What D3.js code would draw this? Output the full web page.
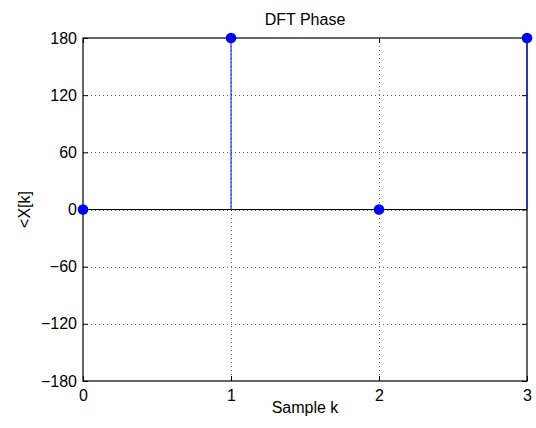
<!DOCTYPE html>
<html>
<head>
<meta charset="utf-8">
<script src="https://cdn.jsdelivr.net/npm/d3@7"></script>
<style>
  body { margin: 0; background: #fff; }
  text { font-family: "Liberation Sans", Arial, Helvetica, sans-serif; }
</style>
</head>
<body>
<svg id="chart" width="536" height="428"></svg>
<script>
"use strict";

const samples = [0, 1, 2, 3]
const phase = [0, 180, 0, 180]
const yTicks = [-180, -120, -60, 0, 60, 120, 180]
const xTicks = [0, 1, 2, 3]

const width = 536
const height = 428
const margin = { top: 38, right: 9, bottom: 47, left: 83 }

const svg = d3.select("#chart")

const x = d3.scaleLinear().domain([0, 3]).range([margin.left, width - margin.right])
const y = d3.scaleLinear().domain([-180, 180]).range([height - margin.bottom, margin.top])

const fmt = d => d < 0 ? "\u2212" + Math.abs(d) : String(d)

// grid (dotted)
const grid = svg.append("g")
    .attr("stroke", "#000")
    .attr("stroke-width", 1)
    .attr("stroke-dasharray", "1,3")
    .attr("shape-rendering", "crispEdges")

grid.selectAll("line.gy")
    .data(yTicks.slice(1, -1))
    .join("line")
    .attr("x1", x(0)).attr("x2", x(3))
    .attr("y1", d => Math.round(y(d)) + 0.5).attr("y2", d => Math.round(y(d)) + 0.5)
    .attr("stroke-opacity", 0.6)

grid.selectAll("line.gx")
    .data(xTicks.slice(1, -1))
    .join("line")
    .attr("y1", y(180)).attr("y2", y(-180))
    .attr("x1", d => Math.round(x(d)) + 0.5).attr("x2", d => Math.round(x(d)) + 0.5)
    .attr("stroke-opacity", 0.6)

// axes, ticks inward on all four sides
const tickLen = 5
const axisLeft = d3.axisLeft(y).tickValues(yTicks).tickSize(-tickLen).tickPadding(6).tickFormat(fmt)
const axisRight = d3.axisRight(y).tickValues(yTicks).tickSize(-tickLen).tickFormat("")
const axisBottom = d3.axisBottom(x).tickValues(xTicks).tickSize(-tickLen).tickPadding(9).tickFormat(d3.format("d"))
const axisTop = d3.axisTop(x).tickValues(xTicks).tickSize(-tickLen).tickFormat("")

function styleAxis(g) {
    g.attr("font-size", null).attr("font-family", null)
    g.select(".domain").remove()
    g.selectAll(".tick line").attr("stroke", "#000")
    g.selectAll(".tick text").attr("fill", "#000").style("font-size", "16px")
}

svg.append("g").attr("transform", `translate(${x(0)},0)`).call(axisLeft).call(styleAxis)
svg.append("g").attr("transform", `translate(${x(3)},0)`).call(axisRight).call(styleAxis)
svg.append("g").attr("transform", `translate(0,${y(-180)})`).call(axisBottom).call(styleAxis)
svg.append("g").attr("transform", `translate(0,${y(180)})`).call(axisTop).call(styleAxis)

// box
svg.append("rect")
    .attr("x", x(0)).attr("y", y(180))
    .attr("width", x(3) - x(0)).attr("height", y(-180) - y(180))
    .attr("fill", "none").attr("stroke", "#000").attr("stroke-width", 1.2)

// stem baseline
svg.append("line")
    .attr("x1", x(0)).attr("x2", x(3))
    .attr("y1", y(0)).attr("y2", y(0))
    .attr("stroke", "#000").attr("stroke-width", 1.2)

const pts = samples.map((k, i) => ({ k: k, v: phase[i] }))

// stems
svg.append("g")
    .selectAll("line")
    .data(pts)
    .join("line")
    .attr("x1", d => x(d.k)).attr("x2", d => x(d.k))
    .attr("y1", y(0)).attr("y2", d => y(d.v))
    .attr("stroke", "#0000ff").attr("stroke-width", 1)

// markers
svg.append("g")
    .selectAll("circle")
    .data(pts)
    .join("circle")
    .attr("cx", d => x(d.k)).attr("cy", d => y(d.v))
    .attr("r", 5.3)
    .attr("fill", "#0000ff")

// labels
svg.append("text")
    .attr("x", (x(0) + x(3)) / 2).attr("y", 25)
    .attr("text-anchor", "middle")
    .style("font-size", "16px")
    .text("DFT Phase")

svg.append("text")
    .attr("x", (x(0) + x(3)) / 2).attr("y", 413)
    .attr("text-anchor", "middle")
    .style("font-size", "16px")
    .text("Sample k")

svg.append("text")
    .attr("transform", `translate(30,${y(0)}) rotate(-90)`)
    .attr("text-anchor", "middle")
    .style("font-size", "16px")
    .text("<X[k]")
</script>
</body>
</html>
